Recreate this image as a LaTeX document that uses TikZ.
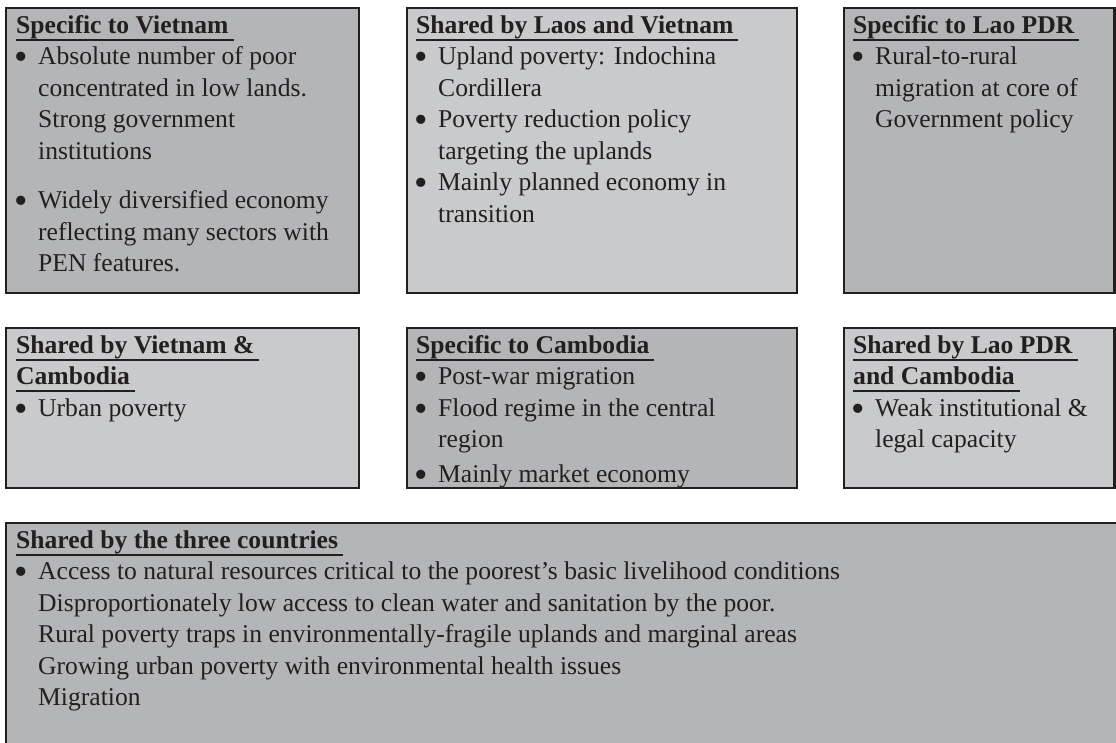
\documentclass[tikz,border=0pt]{standalone}
\usepackage{graphicx}
\usepackage{fontspec}
\setmainfont{Liberation Serif}
\definecolor{darkg}{HTML}{B4B5B7}
\definecolor{lightg}{HTML}{C9CACC}
\definecolor{bord}{HTML}{231F20}
\newcommand\boxhead[1]{\setbox0=\hbox{\bfseries #1}\rlap{\rule[-7.6pt]{\dimexpr\wd0+5pt\relax}{2.2pt}}\box0}
\newcommand\bitem{\makebox[22pt][l]{\hspace{-1.8pt}\raisebox{-5pt}{\scalebox{1.5}{•}}}}
\newcommand\bcont{\hspace*{22pt}}
\tikzset{
  darkbox/.style={draw=bord, line width=2.5pt, fill=darkg},
  lightbox/.style={draw=bord, line width=2.5pt, fill=lightg},
  boxtext/.style={anchor=north west, inner sep=0pt, align=left, text=bord,
    font=\fontsize{25.6}{31.5}\selectfont}
}
\begin{document}
\begin{tikzpicture}[x=1pt,y=-1pt]
\useasboundingbox (0,0) rectangle (1116,742);
\clip (0,0) rectangle (1116,742);
% boxes
\draw[darkbox]  (6,8) rectangle (359,293);
\draw[lightbox] (407,8) rectangle (797,293);
\draw[darkbox]  (844,8) rectangle (1114.5,293);
\draw[lightbox] (6,328) rectangle (359,488);
\draw[darkbox]  (407,328) rectangle (797,488);
\draw[lightbox] (844,328) rectangle (1114.5,488);
\draw[darkbox]  (6,523) rectangle (1140,770);
% texts
\node[boxtext] (tv) at (16,10.95) {\strut\boxhead{Specific to Vietnam}\\
\bitem Absolute number of poor\\
\bcont concentrated in low lands.\\
\bcont Strong government\\
\bcont institutions\\[18pt]
\bitem Widely diversified economy\\
\bcont reflecting many sectors with\\
\bcont PEN features.};
\node[boxtext] (tlv) at (416,10.95) {\strut\boxhead{Shared by Laos and Vietnam}\\
\bitem Upland poverty: Indochina\\
\bcont Cordillera\\
\bitem Poverty reduction policy\\
\bcont targeting the uplands\\
\bitem Mainly planned economy in\\
\bcont transition};
\node[boxtext] (tl) at (853,10.95) {\strut\boxhead{Specific to Lao PDR}\\
\bitem Rural-to-rural\\
\bcont migration at core of\\
\bcont Government policy};
\node[boxtext] (tvc) at (16,330.95) {\strut\boxhead{Shared by Vietnam \&}\\
\boxhead{Cambodia}\\
\bitem Urban poverty};
\node[boxtext] (tc) at (416,330.95) {\strut\boxhead{Specific to Cambodia}\\
\bitem Post-war migration\\
\bitem Flood regime in the central\\
\bcont region\\[3pt]
\bitem Mainly market economy};
\node[boxtext] (tlc) at (853,330.95) {\strut\boxhead{Shared by Lao PDR}\\
\boxhead{and Cambodia}\\
\bitem Weak institutional \&\\
\bcont legal capacity};
\node[boxtext] (tall) at (16,525.95) {\strut\boxhead{Shared by the three countries}\\
\bitem Access to natural resources critical to the poorest’s basic livelihood conditions\\
\bcont Disproportionately low access to clean water and sanitation by the poor.\\
\bcont Rural poverty traps in environmentally-fragile uplands and marginal areas\\
\bcont Growing urban poverty with environmental health issues\\
\bcont Migration};
\end{tikzpicture}
\end{document}
